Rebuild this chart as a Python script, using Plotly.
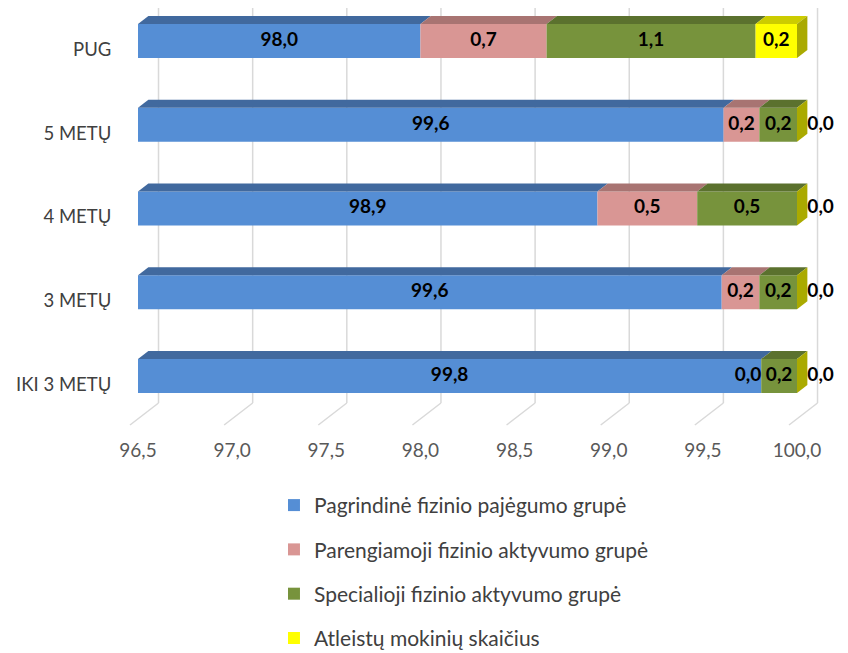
import plotly.graph_objects as go

# --> Data
categories = ["IKI 3 METŲ", "3 METŲ", "4 METŲ", "5 METŲ", "PUG"]
pagrindine = [99.81, 99.60, 98.94, 99.61, 98.00]
parengiamoji = [0.00, 0.20, 0.53, 0.19, 0.67]
specialioji = [0.19, 0.20, 0.53, 0.20, 1.11]
atleista = [0.00, 0.00, 0.00, 0.00, 0.22]

series_names = ["Pagrindinė fizinio pajėgumo grupė",
                "Parengiamoji fizinio aktyvumo grupė",
                "Specialioji fizinio aktyvumo grupė",
                "Atleistų mokinių skaičius"]
x_ticks = [96.5, 97.0, 97.5, 98.0, 98.5, 99.0, 99.5, 100.0]

# --> Style
front_colors = ["#558ED5", "#D99694", "#77933C", "#FFFF00"]
top_colors = ["#41699E", "#A87472", "#5B712E", "#CCCC00"]
side_color = "#AAAA00"
grid_color = "#D9D9D9"
font = "Lato"

X_MIN = 96.5
BAR_W = 0.406            # front face height (y units)
DX, DY = 0.055, 0.096    # bar depth offset
WALL_DX = 0.109          # back wall offset
FLOOR_BACK, FLOOR_FRONT, FRONT_DX = -0.322, -0.585, -0.0425

series = [pagrindine, parengiamoji, specialioji, atleista]
ypos = list(range(len(categories)))

fig = go.Figure()

# --> Back wall grid and floor lines (below the bars)
for t in x_ticks:
    fig.add_shape(type="line", xref="x", yref="y", layer="below",
                  x0=t + WALL_DX, x1=t + WALL_DX, y0=4.6, y1=FLOOR_BACK,
                  line=dict(color=grid_color, width=1.5))
    fig.add_shape(type="line", xref="x", yref="y", layer="below",
                  x0=t + WALL_DX, x1=t + FRONT_DX, y0=FLOOR_BACK, y1=FLOOR_FRONT,
                  line=dict(color=grid_color, width=1.5))

# --> Visible segments (axis starts at X_MIN)
starts, lengths = [], []
cum = [0.0] * len(categories)
for s in series:
    st = [max(c, X_MIN) for c in cum]
    en = [c + v for c, v in zip(cum, s)]
    starts.append(st)
    lengths.append([max(e - a, 0.0) for a, e in zip(st, en)])
    cum = en
ends = cum

# --> Top faces
for k in range(len(series)):
    for i, y in enumerate(ypos):
        x0, x1 = starts[k][i], starts[k][i] + lengths[k][i]
        if lengths[k][i] <= 0:
            continue
        yt = y + BAR_W / 2
        fig.add_trace(go.Scatter(x=[x0, x1, x1 + DX, x0 + DX, x0],
                                 y=[yt, yt, yt + DY, yt + DY, yt],
                                 mode="lines", fill="toself", fillcolor=top_colors[k],
                                 line=dict(width=0), hoverinfo="skip", showlegend=False))

# --> Side face at the end of each bar
for i, y in enumerate(ypos):
    xe = ends[i]
    yb, yt = y - BAR_W / 2, y + BAR_W / 2
    fig.add_trace(go.Scatter(x=[xe, xe + DX, xe + DX, xe, xe],
                             y=[yb, yb + DY, yt + DY, yt, yb],
                             mode="lines", fill="toself", fillcolor=side_color,
                             line=dict(width=0), hoverinfo="skip", showlegend=False))

# --> Front faces
for k in range(len(series)):
    fig.add_trace(go.Bar(y=ypos, x=lengths[k], base=starts[k], orientation="h", width=BAR_W,
                         name=series_names[k], legendgroup=str(k),
                         marker=dict(color=front_colors[k], line=dict(width=0)),
                         hoverinfo="skip"))

# --> Data labels
for k, s in enumerate(series):
    lx, pos = [], []
    for i in range(len(categories)):
        if lengths[k][i] > 0:
            lx.append(starts[k][i] + lengths[k][i] / 2)
            pos.append("middle center")
        elif k == len(series) - 1:
            lx.append(ends[i] + DX)
            pos.append("middle right")
        else:
            lx.append(starts[k][i])
            pos.append("middle left")
    fig.add_trace(go.Scatter(x=lx, y=ypos, mode="text", customdata=s,
                             texttemplate="%{customdata:.1f}", textposition=pos,
                             textfont=dict(family=font, size=19, color="black", weight="bold"),
                             cliponaxis=False, hoverinfo="skip", showlegend=False))

fig.update_layout(
    width=840, height=645,
    margin=dict(l=112, r=0, t=0, b=227, autoexpand=False),
    paper_bgcolor="white", plot_bgcolor="white",
    barmode="overlay", separators=", ",
    font=dict(family=font, size=19, color="#404040"),
    showlegend=True,
    legend=dict(x=0.2115, y=-0.141, xanchor="left", yanchor="top",
                traceorder="grouped", tracegroupgap=14,
                font=dict(family=font, size=21, color="#404040")),
    xaxis=dict(range=[96.4044, 100.2708], tickvals=x_ticks, tickformat=".1f",
               showgrid=False, zeroline=False, showline=False,
               ticks="outside", ticklen=7, tickcolor="rgba(0,0,0,0)",
               tickfont=dict(family=font, size=19, color="#595959")),
    yaxis=dict(range=[-0.597, 4.394], tickvals=[y - 0.1 for y in ypos],
               ticktext=categories, showgrid=False, zeroline=False, showline=False,
               ticks="outside", ticklen=4, tickcolor="rgba(0,0,0,0)",
               tickfont=dict(family=font, size=18.5, color="#404040")),
)

fig.write_html("out.html")
